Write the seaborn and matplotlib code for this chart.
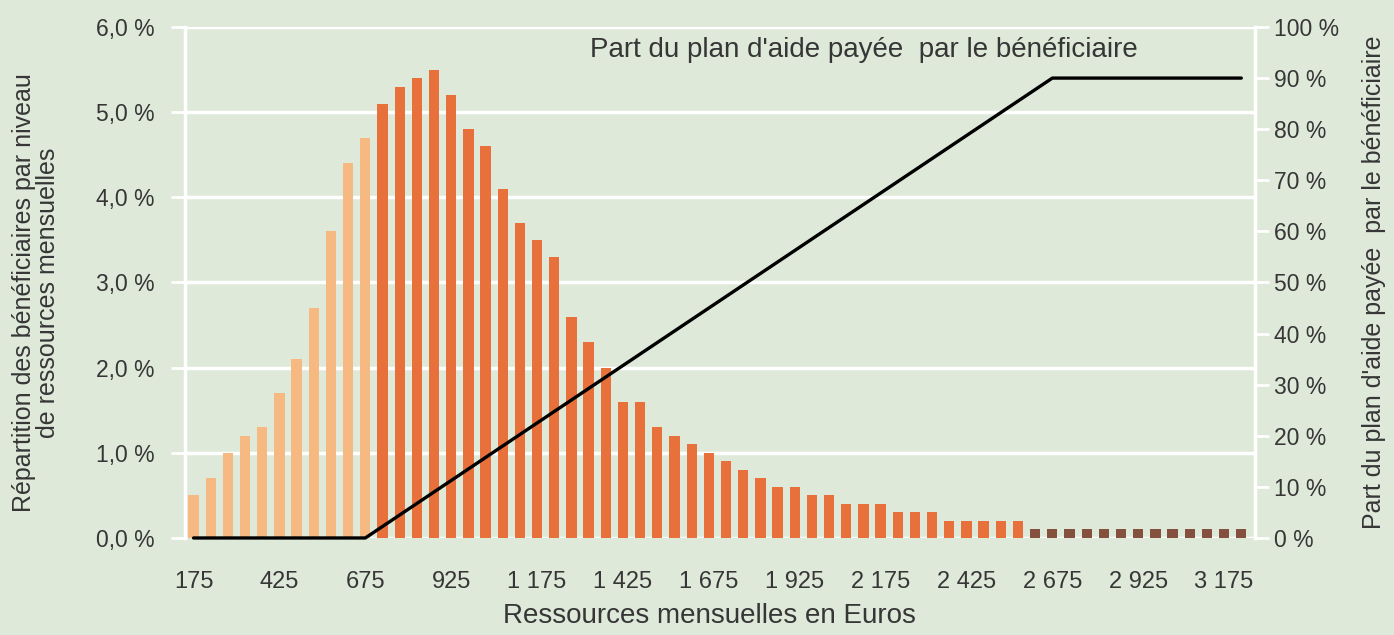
import numpy as np
import pandas as pd
import matplotlib
matplotlib.use("Agg")
import matplotlib.pyplot as plt
import seaborn as sns

# Monthly resources (euros), one bar every 50 euros
income = list(range(175, 3226, 50))

# Share of beneficiaries per resource level (%)
share_benef = [0.5, 0.7, 1.0, 1.2, 1.3, 1.7, 2.1, 2.7, 3.6, 4.4,
               4.7, 5.1, 5.3, 5.4, 5.5, 5.2, 4.8, 4.6, 4.1, 3.7,
               3.5, 3.3, 2.6, 2.3, 2.0, 1.6, 1.6, 1.3, 1.2, 1.1,
               1.0, 0.9, 0.8, 0.7, 0.6, 0.6, 0.5, 0.5, 0.4, 0.4,
               0.4, 0.3, 0.3, 0.3, 0.2, 0.2, 0.2, 0.2, 0.2, 0.1,
               0.1, 0.1, 0.1, 0.1, 0.1, 0.1, 0.1, 0.1, 0.1, 0.1,
               0.1, 0.1]

# Part of the care plan paid by the beneficiary (%): 0 up to 675, 90 from 2675
part_paid = [0] * 11 + [round(90 * (v - 675) / 2000, 2) for v in range(725, 2676, 50)] + [90] * 11

bg = "#dfe9da"
txt = "#363636"

df = pd.DataFrame({"income": [str(v) for v in income], "share": share_benef})
df["group"] = np.where(np.array(income) <= 675, "bas",
                       np.where(np.array(share_benef) <= 0.1, "queue", "haut"))
palette = {"bas": "#f7b982", "haut": "#e8703a", "queue": "#86503f"}

sns.set_style("white")
plt.rcParams["font.family"] = ["Liberation Sans", "DejaVu Sans"]

fig = plt.figure(figsize=(13.94, 6.35), dpi=100, facecolor=bg)
ax = fig.add_axes([0.1327, 0.1528, 0.7676, 0.8047])
ax.set_facecolor(bg)

sns.barplot(data=df, x="income", y="share", hue="group", palette=palette,
            dodge=False, width=0.6, saturation=1, linewidth=0,
            legend=False, ax=ax, zorder=2)

ax2 = ax.twinx()
sns.lineplot(x=np.arange(len(income)), y=part_paid, color="black", lw=2.4,
             ax=ax2, clip_on=False, zorder=3)

ax.set_xlim(-0.5, len(income) - 0.2)
ax.set_ylim(0, 6)
ax2.set_ylim(0, 100)

# grid and frame
ax.set_yticks(np.arange(0, 6.1, 1))
ax.set_yticklabels([f"{v:.1f} %".replace(".", ",") for v in np.arange(0, 6.1, 1)])
ax.yaxis.grid(True, color="white", lw=2.5, zorder=0)
ax.set_axisbelow(True)
for a in (ax, ax2):
    for s in a.spines.values():
        s.set_visible(False)
for side in ("left", "right"):
    ax2.spines[side].set_visible(True)
    ax2.spines[side].set_color("white")
    ax2.spines[side].set_linewidth(2.5)

ax2.set_yticks(np.arange(0, 101, 10))
ax2.set_yticklabels([f"{v} %" for v in range(0, 101, 10)])

ticks = list(range(0, len(income), 5))
ax.set_xticks(ticks)
ax.set_xticklabels([f"{income[i]:,}".replace(",", " ") for i in ticks])

ax.tick_params(axis="x", length=0, pad=24, labelsize=17, labelcolor=txt)
ax.tick_params(axis="y", length=10, width=2, color="white", pad=12, labelsize=16.5, labelcolor=txt)
ax2.tick_params(axis="y", length=10, width=2, color="white", pad=4, labelsize=16.5, labelcolor=txt)

ax.set_xlabel("Ressources mensuelles en Euros", fontsize=20, color=txt)
ax.xaxis.set_label_coords(0.49, -0.127)
ax.set_ylabel("Répartition des bénéficiaires par niveau\nde ressources mensuelles",
              fontsize=18, color=txt, linespacing=1.0)
ax.yaxis.set_label_coords(-0.117, 0.48)
ax2.set_ylabel("Part du plan d'aide payée  par le bénéficiaire", fontsize=18, color=txt)
ax2.yaxis.set_label_coords(1.100, 0.5)

ax.text(0.634, 0.955, "Part du plan d'aide payée  par le bénéficiaire",
        transform=ax.transAxes, ha="center", va="center", fontsize=20, color=txt)

fig.savefig("out.png", dpi=100, facecolor=bg)
